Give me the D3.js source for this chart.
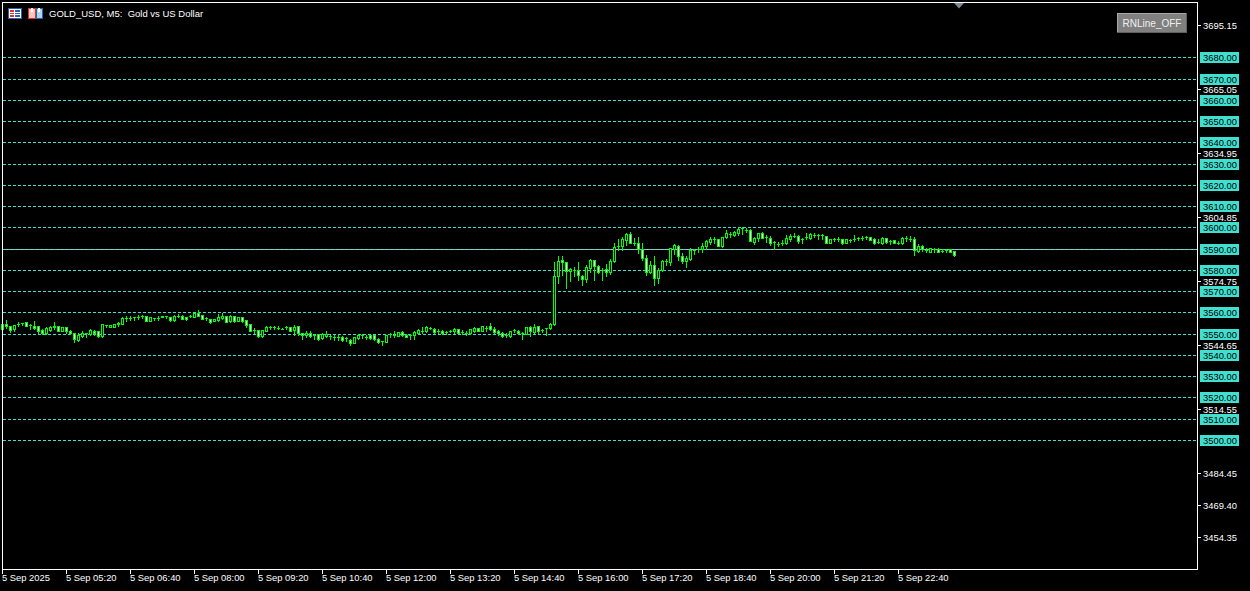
<!DOCTYPE html>
<html><head><meta charset="utf-8">
<style>html,body{margin:0;padding:0;background:#000;overflow:hidden}svg{display:block}text{font-family:"Liberation Sans",sans-serif}</style>
<script src="https://cdn.jsdelivr.net/npm/d3@7"></script>
</head><body><div id="c"></div>
<script>
const title="GOLD_USD, M5:  Gold vs US Dollar";
const buttonLabel="RNLine_OFF";
const timeLabels=["5 Sep 2025","5 Sep 05:20","5 Sep 06:40","5 Sep 08:00","5 Sep 09:20","5 Sep 10:40","5 Sep 12:00","5 Sep 13:20","5 Sep 14:40","5 Sep 16:00","5 Sep 17:20","5 Sep 18:40","5 Sep 20:00","5 Sep 21:20","5 Sep 22:40"];
const priceTicks=[3695.15,3665.05,3634.95,3604.85,3574.75,3544.65,3514.55,3484.45,3469.40,3454.35];
const levels=[3680,3670,3660,3650,3640,3630,3620,3610,3600,3590,3580,3570,3560,3550,3540,3530,3520,3510,3500];
const opens=[3552,3554.7,3553.8,3552,3554.7,3554.8,3555.3,3553.9,3553.6,3553.5,3551.7,3550.5,3551.7,3552.9,3553.6,3551.1,3552.9,3551.2,3550.2,3547.1,3548.9,3550.5,3549.8,3551.4,3551.1,3548.9,3553.9,3552.9,3552.9,3554.4,3554.7,3557.3,3557.4,3557.6,3558,3558.3,3558.3,3556.1,3557.4,3557.4,3558.2,3558.3,3557.7,3556.4,3558.2,3558.3,3558,3558.3,3557.9,3559.7,3558.6,3557.4,3557.1,3555.8,3556.2,3557.4,3558.3,3555.8,3558.3,3555.9,3557.7,3556.2,3554.5,3551.5,3551.8,3549.1,3551.2,3552.9,3552.9,3552.7,3552.4,3552.9,3552.9,3551.5,3553.5,3550.5,3549.2,3550.2,3549.5,3549.7,3547.9,3548.9,3548.9,3548.5,3548.6,3548.6,3547.9,3547.1,3545.8,3548,3549.2,3548.6,3549.2,3549.2,3547.7,3546.4,3546.2,3549.8,3549.5,3548.9,3550.9,3549.5,3549.2,3549.4,3550.2,3551.1,3551.2,3552.7,3552.4,3551.4,3551.4,3550.9,3551.2,3551.1,3552.3,3550.9,3550.5,3550.2,3551.1,3552.7,3551.4,3552.7,3553.5,3552.3,3551.2,3550.3,3549.5,3548.9,3551.5,3551.2,3550.2,3549.7,3553.2,3550.8,3553.5,3551.8,3552.6,3552.6,3554.4,3576.9,3584.7,3583.8,3579.3,3580.1,3580.1,3576.9,3575.7,3581.1,3584.4,3581.9,3580.1,3580.4,3578.8,3584.1,3591,3591,3594.1,3596.7,3592.8,3592.8,3589.7,3585.5,3578.8,3582.2,3576,3579.7,3584,3583.5,3589.7,3591.1,3586.6,3584,3585.2,3589.4,3589.7,3589.7,3591,3593.3,3594.4,3594.4,3591.3,3595.3,3596.9,3596.4,3597.5,3599.5,3598.8,3598.8,3593.3,3594.9,3597.5,3595.3,3594.9,3593,3592.2,3592.5,3592.4,3594.4,3596.1,3596.1,3594.7,3595.3,3594.9,3596.4,3596.3,3596.3,3595.8,3592.4,3594.5,3594.5,3594.4,3592.5,3594.1,3594.5,3595.2,3595.2,3595.3,3595.3,3594.5,3593.1,3592.8,3594.9,3593.8,3593.9,3592.8,3592.5,3594.9,3594.5,3594.5,3588.8,3591.3,3589.4,3588.6,3589.9,3589.9,3588.9,3589.2,3589.6,3588.8];
const highs=[3554.7,3556.5,3553.8,3554.1,3555.3,3555.2,3555.6,3554.7,3555.9,3553.8,3552,3552.9,3553.8,3555.6,3553.6,3552.9,3552.9,3551.8,3550.2,3550.5,3551.1,3550.5,3552.3,3551.8,3551.1,3554.7,3554.2,3553.9,3554.7,3555.6,3557.7,3558.3,3558.3,3557.6,3558.8,3558.9,3558.3,3557.9,3557.4,3558.2,3558.2,3558.3,3557.7,3558.6,3559.2,3558.9,3558,3558.8,3559.5,3561.1,3558.9,3558,3557.1,3556.8,3559.1,3559.5,3558.3,3558.8,3558.3,3557.7,3558,3556.2,3554.5,3552.7,3551.8,3551.5,3553.8,3553.8,3553.6,3553.5,3552.7,3553.8,3552.9,3554.2,3553.5,3550.5,3551.1,3551.1,3549.8,3549.7,3550.5,3551.1,3549.5,3549.2,3549.2,3549.1,3548.6,3547.4,3548.2,3549.7,3549.7,3549.4,3549.4,3549.4,3548,3546.7,3549.2,3550.5,3551.1,3550.9,3551.4,3549.8,3549.8,3551.2,3552,3553.2,3553.8,3553.2,3552.7,3552,3551.7,3551.4,3551.5,3552.6,3552.3,3551.7,3551.1,3552.3,3553,3552.7,3553.8,3553.8,3555,3553.2,3551.5,3550.8,3550.2,3551.4,3552.4,3551.5,3550.8,3553.2,3553.5,3554.7,3553.8,3552.4,3552.6,3555,3583.5,3586.3,3586.6,3583.8,3580.8,3581.3,3583.5,3577.7,3582.2,3585,3584.7,3582.4,3580.8,3582.9,3585,3592.8,3594.7,3595.3,3597.5,3597.8,3595,3595.6,3592.8,3587.1,3584,3586.6,3580.8,3584.4,3585.2,3590.3,3592.2,3591.7,3587.8,3586.6,3590.2,3589.7,3590.7,3592.5,3594.1,3595.3,3595.3,3594.4,3595.3,3598.8,3597.8,3598.1,3599.7,3600,3599.7,3599.2,3595.6,3597.5,3597.8,3596.3,3596,3593.8,3593.1,3594.1,3596.3,3596.9,3597.5,3596.6,3595,3597.2,3597.5,3597.2,3597,3596.9,3595.8,3594.4,3594.9,3595.3,3594.7,3594.4,3594.7,3596.4,3595.3,3596,3596,3595.3,3595,3594.4,3595.6,3595.2,3594.1,3593.9,3593.8,3595.3,3596,3596,3595.3,3592.2,3591.6,3590.2,3590.2,3590.3,3590.2,3589.7,3589.7,3589.6,3588.8];
const lows=[3552,3552.7,3550.9,3551.2,3553.5,3554.1,3553.5,3552.4,3552,3550.5,3549.7,3549.8,3551.1,3552.3,3551.2,3551.1,3550.5,3549.7,3545.9,3546.4,3548.6,3548.3,3549.5,3549.2,3548.5,3548.3,3552.9,3552.9,3552.9,3553.8,3554.4,3555.9,3556.5,3556.5,3557.1,3557.4,3556.1,3556.1,3556.5,3556.5,3557.9,3557.4,3555.8,3556.1,3557.7,3556.8,3556.5,3558,3557.9,3558.3,3556.8,3556.4,3555.2,3555.8,3555.9,3557,3555.6,3555.5,3555.3,3555.9,3555.3,3553.2,3551.1,3550.5,3548.5,3548.5,3551.1,3552,3552,3552,3552.3,3552,3551.4,3549.5,3549.2,3547.7,3548.6,3548.6,3547.4,3547,3547.4,3548.6,3547.4,3546.8,3546.8,3546.7,3546.5,3544.7,3545.8,3547.4,3548,3547.4,3547.3,3547.1,3545.6,3544.7,3546.2,3548.6,3548.5,3548.9,3548.9,3548.3,3547.7,3547.7,3549.8,3550.5,3550.9,3552,3550.5,3550.5,3549.8,3549.8,3550.9,3550.5,3550.5,3549.8,3549.5,3549.8,3550.8,3551.4,3551.1,3551.4,3551.7,3550.5,3549.2,3548.5,3548.5,3548.6,3550.8,3549.8,3547.7,3549.7,3548.9,3550.5,3550.5,3550.8,3549.2,3552.3,3553.9,3573.8,3577.7,3571.5,3574.6,3577.3,3575.1,3573,3574.1,3578.8,3575.1,3578.5,3575.1,3577.3,3578.2,3583.8,3589.4,3589.4,3591.7,3592.5,3591.6,3587.8,3584.7,3577.7,3578.5,3573,3573.8,3579.3,3582.4,3582.4,3587.4,3584.7,3583.2,3581.3,3584.7,3587.5,3588.6,3588.6,3589.7,3592.2,3592.5,3591.4,3590.7,3594.9,3595.3,3596,3596.3,3596.9,3597.8,3593.6,3592.2,3593.5,3594.9,3593.1,3591.9,3589.9,3591,3591.6,3592.2,3593.6,3595.3,3592.5,3592.8,3594.5,3594.4,3595.3,3594.7,3594.5,3592.4,3592.4,3593.5,3593.5,3592.1,3592.5,3593.1,3593.6,3594.1,3594.1,3594.5,3594.2,3592.2,3592.5,3592.2,3592.7,3592.2,3592.4,3592.2,3592.2,3593.8,3593.5,3587.1,3588.5,3589.1,3588.2,3588.6,3588.5,3588.2,3588.2,3588.5,3588.6,3586.3];
const closes=[3554.7,3553.5,3551.7,3554.1,3554.7,3554.8,3553.8,3553.9,3552.6,3551.1,3550.2,3552.6,3553.3,3553.6,3551.2,3552.9,3551.1,3550.2,3547.4,3549.5,3550.2,3550.5,3551.7,3550.2,3548.9,3554.4,3553.9,3553.9,3554.7,3555.2,3557.4,3557.3,3557.4,3557.6,3558,3558.3,3556.1,3557.9,3557.4,3557.4,3557.9,3558.3,3556.5,3558.3,3558.2,3557.1,3557.1,3558.3,3559.5,3558.5,3557.1,3557.4,3555.6,3556.8,3557.7,3558.5,3555.6,3558.3,3555.9,3557.7,3555.9,3554.2,3551.1,3551.5,3548.9,3551.5,3553.3,3552.9,3552.9,3552.7,3552.4,3552.9,3551.4,3553.3,3550.2,3549.2,3550.5,3548.9,3549.5,3547.7,3550,3549.8,3548.9,3548.5,3548.6,3547.1,3547.9,3545.6,3548.2,3549.2,3549.2,3548.6,3547.9,3547.4,3546.1,3546.4,3549.2,3549.8,3549.5,3550.9,3549.5,3548.5,3549.2,3550.9,3551.7,3551.1,3552.9,3552.7,3550.8,3551.4,3550.2,3550.9,3551.2,3552.3,3550.5,3550.9,3550.5,3552,3552.7,3551.4,3553.5,3552.7,3552,3550.9,3550.2,3548.9,3549.5,3551.2,3551.5,3550.2,3550.2,3553.2,3551.1,3552.9,3551.1,3551.8,3552.6,3554.7,3577.3,3584,3583.5,3579.4,3580.4,3580.1,3577.6,3575.7,3581.3,3584.4,3581.6,3579,3580.1,3578.8,3584.1,3590.7,3591,3594.5,3596.9,3592.8,3592.8,3589.7,3585.4,3578.8,3582.2,3576,3579.9,3584,3584,3590.2,3591.7,3586.3,3584,3585.5,3589.4,3589.4,3589.7,3591.1,3593.6,3594.4,3594.4,3591.4,3595.3,3597.2,3596.9,3597.8,3599.2,3599.5,3598.8,3593.8,3594.9,3597.2,3595.2,3595.3,3592.5,3593,3592.2,3592.5,3595,3596,3596.1,3593.8,3594.7,3595.3,3596.9,3596.4,3596.3,3596.3,3592.4,3594.4,3594.5,3594.5,3592.5,3594.4,3594.1,3594.5,3595.2,3595.2,3595.3,3594.2,3592.5,3593.1,3595,3593,3593.8,3592.4,3592.8,3595,3594.9,3594.5,3589.4,3591.3,3589.7,3589.4,3590.2,3589.9,3588.5,3588.9,3589.2,3588.6,3587.2];

const W=1250,H=591,L=2,R=1197,T=2,B=569;
const y=d3.scaleLinear().domain([3500,3680]).range([440.43,57.75]);
const x=d3.scaleLinear().domain([0,1]).range([2.5,6.5]);
const px=v=>Math.floor(y(v))+0.5;
const svg=d3.select("#c").append("svg").attr("width",W).attr("height",H).attr("viewBox",`0 0 ${W} ${H}`);
svg.append("rect").attr("width",W).attr("height",H).attr("fill","#000");
const crisp=s=>s.attr("shape-rendering","crispEdges");

// current price line (under the dashed levels)
crisp(svg.append("line").attr("x1",L+1).attr("x2",R).attr("y1",px(3590)).attr("y2",px(3590)).attr("stroke","#c0c0c0"));

// level lines
const gl=svg.append("g");
crisp(gl.selectAll("line").data(levels).join("line")
 .attr("x1",L+1).attr("x2",R).attr("y1",px).attr("y2",px)
 .attr("stroke","#40E0D0").attr("stroke-dasharray","3,2"));

// candles
const g=svg.append("g");
opens.forEach((o,i)=>{
  const c=closes[i],cx=x(i),hy=px(highs[i]),ly=px(lows[i]),t=px(Math.max(o,c)),b=px(Math.min(o,c));
  crisp(g.append("line").attr("x1",cx).attr("x2",cx).attr("y1",hy-.5).attr("y2",ly+.5).attr("stroke","#00ff00"));
  if(t===b){
    crisp(g.append("line").attr("x1",cx-1.5).attr("x2",cx+1.5).attr("y1",t).attr("y2",t).attr("stroke","#00ff00"));
  }else{
    crisp(g.append("rect").attr("x",cx-1).attr("y",t).attr("width",2).attr("height",b-t)
      .attr("stroke","#00ff00").attr("fill",c>o?"#000":"#fff"));
  }
});

// frame
crisp(svg.append("rect").attr("x",L+.5).attr("y",T+.5).attr("width",R-L).attr("height",B-T).attr("fill","none").attr("stroke","#fff"));
// shift marker
svg.append("path").attr("d","M954 3L964 3L959 8.5Z").attr("fill","#778899");

// right axis
const fs=9.4;
const ga=svg.append("g");
priceTicks.forEach(p=>{
  const yy=px(p);
  crisp(ga.append("line").attr("x1",R+1).attr("x2",R+4).attr("y1",yy).attr("y2",yy).attr("stroke","#fff"));
  ga.append("text").attr("x",1203).attr("y",yy+3.5).attr("fill","#fff").attr("font-size",fs).text(p.toFixed(2));
});
levels.forEach(p=>{
  const yy=px(p);
  crisp(ga.append("rect").attr("x",1200).attr("y",yy-5.5).attr("width",39).attr("height",11).attr("fill","#40E0D0"));
  ga.append("text").attr("x",1203).attr("y",yy+3.5).attr("fill","#000").attr("font-size",fs).text(p.toFixed(2));
});

// time axis
const tx=d3.scaleLinear().domain([0,1]).range([2,66]);
timeLabels.forEach((t,i)=>{
  const xx=tx(i)+.5;
  crisp(svg.append("line").attr("x1",xx).attr("x2",xx).attr("y1",B).attr("y2",B+5).attr("stroke","#fff"));
  svg.append("text").attr("x",tx(i)).attr("y",581).attr("fill","#fff").attr("font-size",fs).text(t);
});

// title + icons
svg.append("text").attr("x",49).attr("y",17).attr("fill","#fff").attr("font-size",9.5).style("white-space","pre").text(title);
const ic=svg.append("g");
crisp(ic.append("rect").attr("x",8).attr("y",8).attr("width",13).attr("height",10).attr("fill","#fff").attr("stroke","#2a5fb0"));
[10,12.5,15].forEach(v=>{crisp(ic.append("rect").attr("x",10).attr("y",v).attr("width",4).attr("height",1.5).attr("fill","#e03030"));crisp(ic.append("rect").attr("x",15).attr("y",v).attr("width",5).attr("height",1.5).attr("fill","#2a5fb0"));});
crisp(ic.append("rect").attr("x",28).attr("y",8).attr("width",7).attr("height",10).attr("fill","#f8c8c0").attr("stroke","#e03030"));
crisp(ic.append("rect").attr("x",36).attr("y",8).attr("width",6).attr("height",10).attr("fill","#a8d8f0").attr("stroke","#2a5fb0"));
crisp(ic.append("rect").attr("x",31).attr("y",8).attr("width",2).attr("height",4).attr("fill","#fff"));
crisp(ic.append("rect").attr("x",38).attr("y",8).attr("width",2).attr("height",4).attr("fill","#fff"));

// button
crisp(svg.append("rect").attr("x",1117).attr("y",13).attr("width",70).attr("height",20).attr("fill","#808080"));
crisp(svg.append("path").attr("d","M1117.5 33V13.5H1187").attr("fill","none").attr("stroke","#a8a8a8"));
crisp(svg.append("path").attr("d","M1117 32.5H1186.5V13").attr("fill","none").attr("stroke","#606060"));
svg.append("text").attr("x",1152).attr("y",27).attr("text-anchor","middle").attr("fill","#f0f0f0").attr("font-size",10).text(buttonLabel);
</script></body></html>
